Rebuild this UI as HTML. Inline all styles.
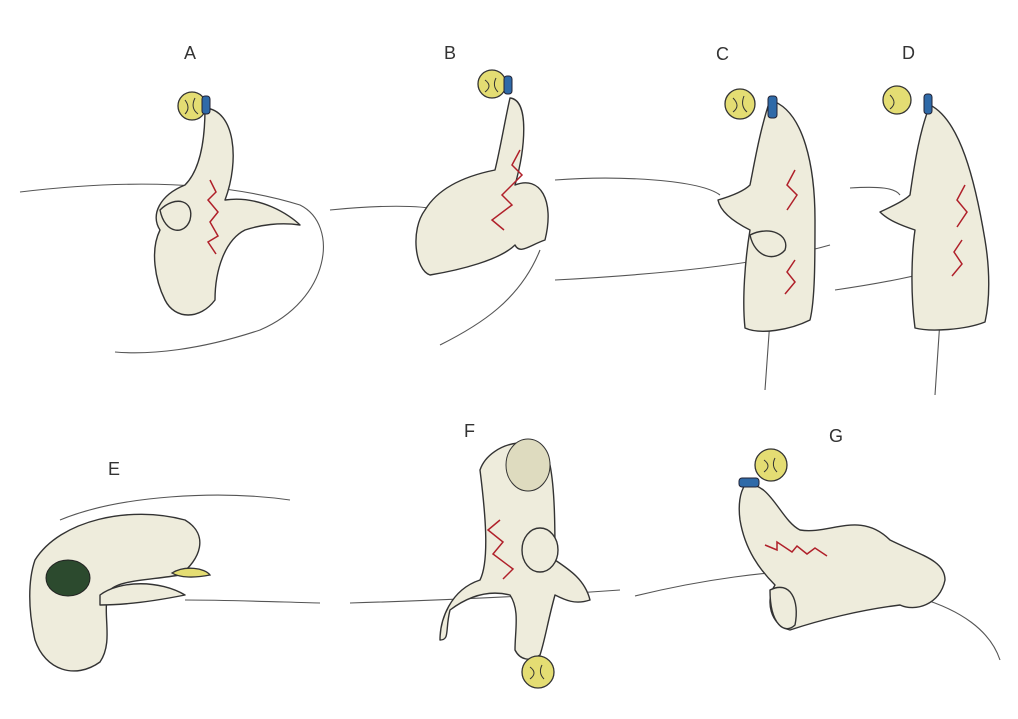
<!DOCTYPE html>
<html><head><meta charset="utf-8"><style>
html,body{margin:0;padding:0;background:#fff;}
svg{display:block}
text{font-family:"Liberation Sans",sans-serif;font-size:18px;fill:#333}
.b{fill:#eeecdc;stroke:#333;stroke-width:1.4;stroke-linejoin:round}
.l{fill:none;stroke:#555;stroke-width:1.1}
.r{fill:none;stroke:#b0202a;stroke-width:1.5}
.y{fill:#e4dd73;stroke:#333;stroke-width:1.3}
.bl{fill:#2f6aa8;stroke:#223;stroke-width:1}
.d{fill:none;stroke:#333;stroke-width:1}
</style></head><body>
<svg width="1018" height="719" viewBox="0 0 1018 719">
<text x="184" y="59">A</text><text x="444" y="59">B</text><text x="716" y="60">C</text>
<text x="902" y="59">D</text><text x="108" y="475">E</text><text x="464" y="437">F</text><text x="829" y="442">G</text>

<path class="l" d="M20 192 C120 180 220 180 300 205 C340 225 330 300 260 330 C200 350 150 355 115 352"/>
<path class="b" d="M205 108 C235 110 240 160 225 200 C260 195 290 215 300 225 C280 222 260 225 245 230 C225 240 215 270 215 300 C200 320 175 320 165 300 C155 280 150 250 160 230 C150 215 160 195 185 185 C200 170 205 140 205 108Z"/>
<path class="b" d="M160 210 C175 195 195 200 190 220 C185 235 165 235 160 210Z"/>
<path class="r" d="M210 180 l6 12 -8 8 10 12 -8 10 8 14 -10 6 8 12"/>
<circle class="y" cx="192" cy="106" r="14"/><rect class="bl" x="202" y="96" width="8" height="18" rx="3"/>
<path class="d" d="M185 100 q6 8 0 14 M195 98 q-5 10 3 16"/>

<path class="l" d="M330 210 C380 205 420 205 440 210 M540 250 C520 300 480 325 440 345"/>
<path class="b" d="M510 98 C530 100 525 150 515 185 C540 175 555 200 545 240 C530 245 520 255 515 245 C500 260 460 270 430 275 C415 270 410 230 425 210 C440 185 470 175 495 170 C500 150 505 120 510 98Z"/>
<path class="r" d="M520 150 l-8 15 10 10 -20 20 10 10 -20 15 12 10"/>
<circle class="y" cx="492" cy="84" r="14"/><rect class="bl" x="504" y="76" width="8" height="18" rx="3"/>
<path class="d" d="M485 80 q8 6 0 12 M496 78 q-4 8 2 14"/>

<path class="l" d="M555 180 C620 175 700 180 720 195 M555 280 C650 275 760 265 830 245 M770 320 L765 390"/>
<path class="b" d="M770 100 C805 110 815 170 815 220 C815 260 815 300 810 320 C790 330 760 335 745 328 C742 300 745 260 750 230 C730 220 720 210 718 200 C735 195 745 190 750 185 C755 160 760 130 770 100Z"/>
<path class="b" d="M750 235 C770 225 790 235 785 250 C775 262 755 258 750 235Z"/>
<path class="r" d="M795 170 l-8 15 10 10 -10 15 M795 260 l-8 12 8 10 -10 12"/>
<circle class="y" cx="740" cy="104" r="15"/><rect class="bl" x="768" y="96" width="9" height="22" rx="3"/>
<path class="d" d="M733 98 q8 8 0 14 M744 96 q-4 10 3 16"/>

<path class="l" d="M850 188 C880 186 895 188 900 195 M835 290 C870 285 930 275 960 262 M940 320 L935 395"/>
<path class="b" d="M930 105 C960 120 975 180 985 240 C990 270 990 300 985 322 C965 330 930 332 915 328 C910 290 912 250 915 230 C900 225 888 220 880 212 C895 205 905 200 910 195 C915 160 920 130 930 105Z"/>
<path class="r" d="M965 185 l-8 15 10 12 -10 15 M962 240 l-8 12 8 12 -10 12"/>
<circle class="y" cx="897" cy="100" r="14"/><rect class="bl" x="924" y="94" width="8" height="20" rx="3"/>
<path class="d" d="M890 95 q8 8 0 14"/>

<path class="l" d="M60 520 C120 495 220 490 290 500 M185 600 C230 600 280 602 320 603"/>
<path class="b" d="M35 560 C60 520 130 505 185 520 C210 535 200 560 180 575 C150 580 120 580 110 590 C100 610 115 640 100 662 C75 680 45 670 35 640 C28 610 28 580 35 560Z"/>
<path class="b" d="M100 595 C120 580 160 580 185 595 C160 600 130 605 100 605Z"/>
<ellipse cx="68" cy="578" rx="22" ry="18" fill="#2c4a2e" stroke="#222"/>
<path class="y" d="M172 573 C185 565 205 568 210 575 C195 578 180 578 172 573Z"/>

<path class="l" d="M350 603 C450 600 550 595 620 590"/>
<path class="b" d="M480 470 C490 440 545 430 550 465 C555 490 555 530 555 560 C570 570 585 580 590 600 C575 605 565 600 555 595 C548 620 545 640 540 655 C530 662 520 660 515 650 C515 630 520 610 510 595 C490 590 470 595 450 610 C445 630 450 640 440 640 C440 620 450 590 480 580 C490 560 485 510 480 470Z"/>
<ellipse cx="528" cy="465" rx="22" ry="26" fill="#dedbbf" stroke="#333"/>
<ellipse cx="540" cy="550" rx="18" ry="22" class="b"/>
<path class="r" d="M500 520 l-12 10 15 12 -10 12 20 15 -10 10"/>
<circle class="y" cx="538" cy="672" r="16"/>
<path class="d" d="M530 667 q8 6 0 12 M542 665 q-4 8 2 14"/>

<path class="l" d="M635 596 C700 580 770 570 830 570 M920 598 C960 610 990 630 1000 660"/>
<path class="b" d="M745 485 C770 480 780 520 800 530 C830 535 860 510 890 540 C920 555 945 560 945 580 C940 605 915 612 900 605 C860 610 820 620 790 630 C770 625 765 600 775 585 C760 570 745 550 740 520 C738 505 740 492 745 485Z"/>
<path class="b" d="M770 590 C790 580 800 600 795 625 C785 635 770 625 770 590Z"/>
<path class="r" d="M765 545 l12 5 0 -8 15 10 5 -6 10 8 8 -6 12 8"/>
<circle class="y" cx="771" cy="465" r="16"/><rect class="bl" x="739" y="478" width="20" height="9" rx="3"/>
<path class="d" d="M764 460 q8 6 0 12 M775 458 q-4 8 2 14"/>
</svg>
</body></html>
